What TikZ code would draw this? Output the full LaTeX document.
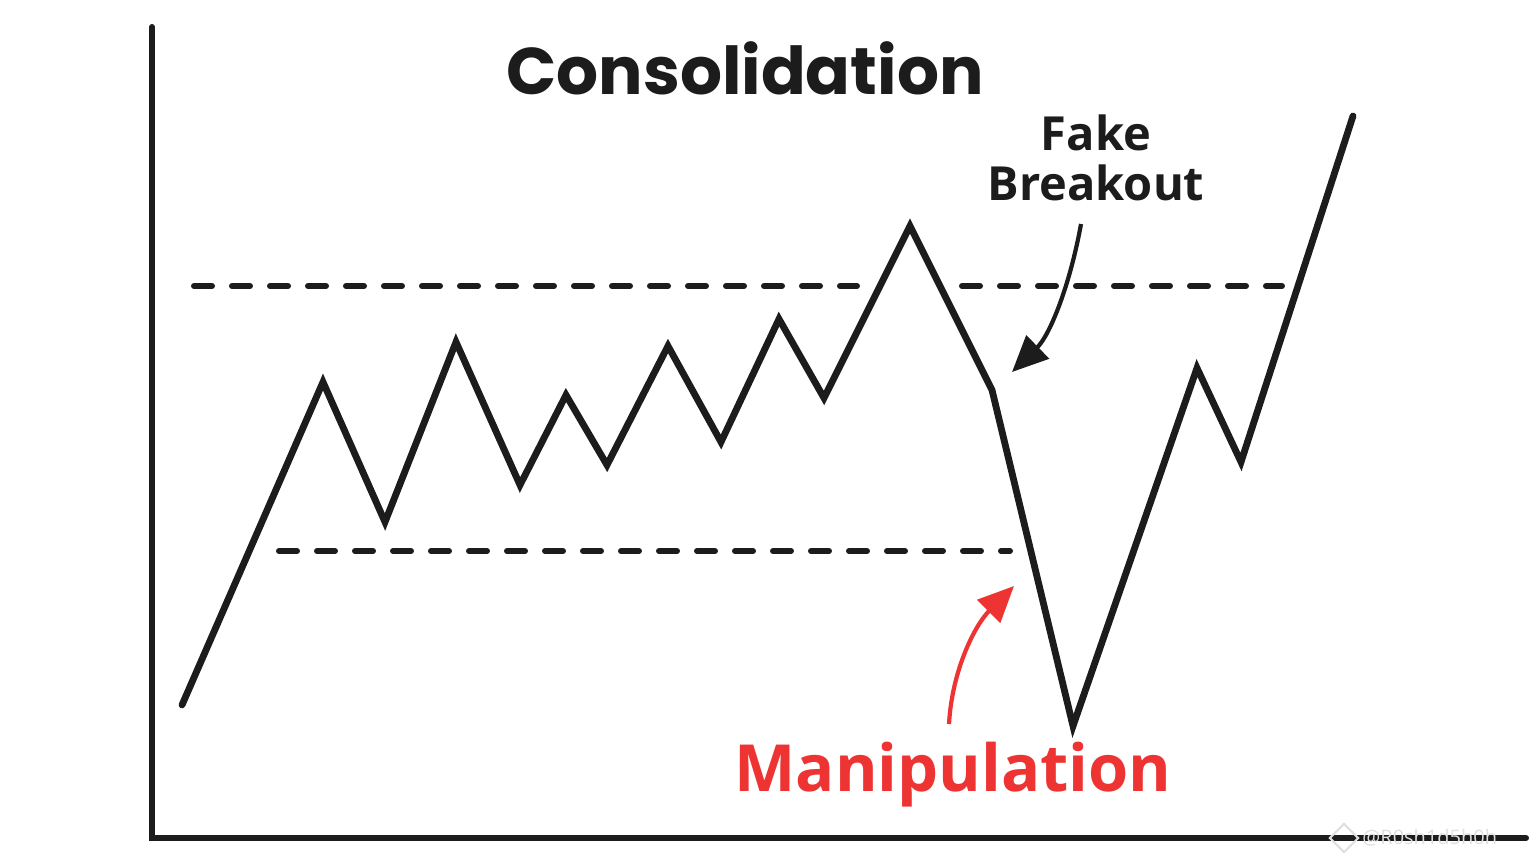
\documentclass[tikz,border=0pt]{standalone}
\usepackage{fontspec}
\setmainfont{Open Sans}
\newfontfamily\titlefont{Poppins}
\usetikzlibrary{arrows.meta}
\definecolor{ink}{HTML}{1C1C1C}
\definecolor{manred}{HTML}{EE3333}
\tikzset{
  axisline/.style={ink, line width=3pt, line cap=round},
  price/.style={ink, line width=3.4pt, line join=miter, line cap=round},
  level/.style={ink, line width=3pt, line cap=round, dash pattern=on 9pt off 10pt},
  callout/.style={line width=2.1pt, -{Triangle[length=18pt,width=16pt]}},
}
\begin{document}
\begin{tikzpicture}[x=0.5pt,y=-0.5pt]
\useasboundingbox (0,0) rectangle (1536,864);
% axes
\coordinate (ytop) at (152,27);
\coordinate (origin) at (152,838);
\coordinate (xend) at (1526,838);
\draw[axisline] (ytop) -- (origin) -- (xend);
% levels
\draw[level] (194,286) -- (857,286);
\draw[level] (962,286) -- (1282,286);
\draw[level] (279,551) -- (1010,551);
% price path
\draw[price] (182,705) -- (323,382) -- (385,522) -- (456,342) -- (520,485) -- (566,395)
  -- (607,465) -- (668,346) -- (721,442) -- (779,319) -- (824,398) -- (910,226)
  -- (992,390) -- (1073,726) -- (1197,368) -- (1241,462) -- (1353,116);
% texts
\node[font=\titlefont\fontsize{33pt}{40pt}\selectfont\bfseries, text=ink] (title) at (745,68) {Consolidation};
\node[font=\fontsize{23.5pt}{24pt}\selectfont\bfseries, text=ink, align=center] (fake) at (1096,158) {Fake\\[1pt]Breakout};
\node[font=\fontsize{32.5pt}{36pt}\selectfont\bfseries, text=manred] (manip) at (953,775) {Manipulation};
% callouts
\coordinate (fbstart) at (1081,224);
\coordinate (fbtip) at (1012,372);
\draw[callout, ink] (fbstart) .. controls (1070,285) and (1050,335) .. (fbtip);
\coordinate (mstart) at (949,724);
\coordinate (mtip) at (1014,586);
\draw[callout, manred] (mstart) .. controls (952,670) and (975,625) .. (mtip);
% watermark
\node[font=\fontsize{10pt}{10pt}\selectfont, text=gray!25, anchor=west, inner sep=0pt] (wm) at (1362,838) {@R0sh1d5h0h};
\node[draw=gray!25, line width=1pt, rotate=45, minimum size=10pt, inner sep=0pt] (logo) at (1344,838) {};
\end{tikzpicture}
\end{document}
